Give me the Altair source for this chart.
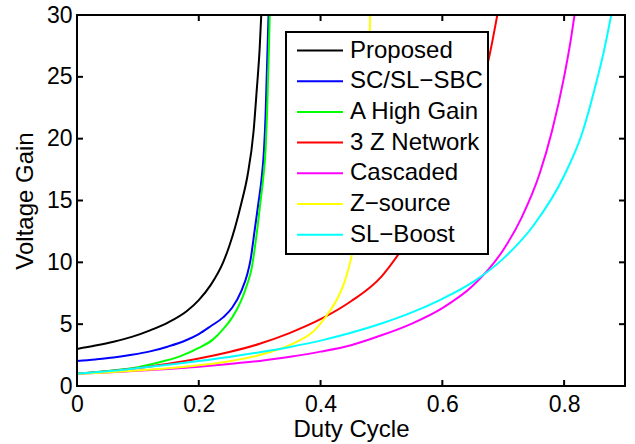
import altair as alt
import pandas as pd

FONT = "Liberation Sans"

# Series labels (legend order) and their line colours
series_names = ["Proposed", "SC/SL\u2212SBC", "A High Gain", "3 Z Network",
                "Cascaded", "Z\u2212source", "SL\u2212Boost"]
series_colors = ["#000000", "#0000ff", "#00ff00", "#ff0000",
                 "#ff00ff", "#ffff00", "#00ffff"]

# Voltage gain versus duty cycle for each converter
duty_proposed = [0, 0.03, 0.06, 0.09, 0.12, 0.15, 0.18, 0.20, 0.22, 0.24, 0.25,
                 0.26, 0.27, 0.28, 0.29, 0.295, 0.30, 0.3032]
gain_proposed = [3.0, 3.27, 3.58, 3.97, 4.5, 5.15, 6.05, 6.95, 8.2, 10.0, 11.3,
                 12.9, 14.8, 17.0, 20.6, 23.8, 27.3, 30.6]

duty_scsl = [0, 0.03, 0.06, 0.09, 0.12, 0.15, 0.18, 0.20, 0.22, 0.24, 0.255,
             0.27, 0.28, 0.285, 0.2918, 0.2985, 0.303, 0.307, 0.3097, 0.3113, 0.3148]
gain_scsl = [2.03, 2.15, 2.3, 2.52, 2.8, 3.2, 3.72, 4.2, 4.85, 5.55, 6.35,
             7.7, 9.1, 10.2, 12.6, 15.0, 16.7, 19.0, 21.9, 24.6, 30.4]

duty_highgain = [0, 0.05, 0.10, 0.14, 0.17, 0.20, 0.2235, 0.24, 0.255, 0.27, 0.28,
                 0.2863, 0.2945, 0.301, 0.3055, 0.3098, 0.312, 0.3136, 0.3152, 0.3168]
gain_highgain = [1.0, 1.22, 1.52, 1.98, 2.42, 3.08, 3.77, 4.6, 5.55, 6.95, 8.3,
                 9.38, 12.07, 14.77, 16.65, 19.2, 21.9, 24.6, 27.3, 30.5]

duty_3z = [0, 0.05, 0.10, 0.15, 0.20, 0.25, 0.30, 0.35, 0.40, 0.45, 0.50, 0.53,
           0.55, 0.58, 0.61, 0.64, 0.66, 0.676, 0.691]
gain_3z = [1.0, 1.2, 1.45, 1.8, 2.22, 2.75, 3.42, 4.3, 5.4, 6.85, 8.85, 10.8,
           12.3, 14.8, 17.8, 21.0, 23.5, 26.4, 30.2]

duty_cascaded = [0, 0.05, 0.10, 0.15, 0.20, 0.25, 0.30, 0.35, 0.40, 0.45, 0.50,
                 0.55, 0.60, 0.65, 0.70, 0.73, 0.76, 0.78, 0.80, 0.81, 0.818]
gain_cascaded = [1.0, 1.1, 1.23, 1.38, 1.56, 1.78, 2.03, 2.37, 2.78, 3.3, 4.1,
                 5.05, 6.3, 8.1, 11.0, 13.6, 17.2, 20.6, 25.0, 27.7, 30.3]

duty_zsource = [0, 0.05, 0.10, 0.15, 0.20, 0.25, 0.30, 0.33, 0.36, 0.39, 0.41,
                0.43, 0.44, 0.45, 0.455, 0.46, 0.465, 0.47, 0.475, 0.478, 0.4805, 0.4822]
gain_zsource = [1.0, 1.1, 1.25, 1.43, 1.67, 2.0, 2.5, 2.95, 3.55, 4.5, 5.7,
                7.3, 8.5, 10.3, 11.4, 12.8, 14.5, 16.8, 20.2, 24.0, 28.3, 30.8]

duty_slboost = [0, 0.05, 0.10, 0.15, 0.20, 0.25, 0.30, 0.35, 0.40, 0.45, 0.50,
                0.55, 0.60, 0.65, 0.70, 0.75, 0.80, 0.83, 0.85, 0.865, 0.879]
gain_slboost = [1.0, 1.2, 1.45, 1.72, 2.02, 2.35, 2.73, 3.16, 3.67, 4.3, 5.05,
                5.95, 7.05, 8.4, 10.3, 13.0, 17.0, 20.5, 24.0, 27.0, 30.4]

duty_all = [duty_proposed, duty_scsl, duty_highgain, duty_3z,
            duty_cascaded, duty_zsource, duty_slboost]
gain_all = [gain_proposed, gain_scsl, gain_highgain, gain_3z,
            gain_cascaded, gain_zsource, gain_slboost]

x_ticks = [0, 0.2, 0.4, 0.6, 0.8]
y_ticks = [0, 5, 10, 15, 20, 25, 30]

W, H = 548, 371
TICK_LEN = 6

rows = []
for k, (name, ds, gs) in enumerate(zip(series_names, duty_all, gain_all)):
    for d, g in zip(ds, gs):
        rows.append({"series": name, "rank": k, "duty": d, "gain": g})
df = pd.DataFrame(rows)

x_scale = alt.Scale(domain=[0, 0.9], nice=False)
y_scale = alt.Scale(domain=[0, 30], nice=False)

lines = alt.Chart(df).mark_line(strokeWidth=2, clip=True,
                                interpolate="monotone").encode(
    x=alt.X("duty:Q", scale=x_scale,
            axis=alt.Axis(orient="bottom", values=x_ticks, format="~g",
                          ticks=False, tickSize=0, domain=False, grid=False,
                          labelFlush=False, labelFont=FONT, labelFontSize=23,
                          labelColor="black", labelPadding=7,
                          title="Duty Cycle", titleFont=FONT, titleFontSize=24,
                          titleFontWeight="normal", titleColor="black",
                          titleX=W / 2, titleY=50, titleBaseline="alphabetic",
                          titleAlign="center")),
    y=alt.Y("gain:Q", scale=y_scale,
            axis=alt.Axis(orient="left", values=y_ticks, ticks=False, tickSize=0,
                          domain=False, grid=False, labelFont=FONT,
                          labelFontSize=23, labelColor="black", labelPadding=5,
                          title="Voltage Gain", titleFont=FONT, titleFontSize=24,
                          titleFontWeight="normal", titleColor="black",
                          titleAngle=270, titleX=-45, titleY=H / 2,
                          titleBaseline="alphabetic", titleAlign="center")),
    color=alt.Color("series:N",
                    scale=alt.Scale(domain=series_names, range=series_colors),
                    legend=alt.Legend(orient="none", legendX=209, legendY=17,
                                      direction="vertical", title=None,
                                      symbolType="stroke", symbolSize=2116,
                                      symbolStrokeWidth=2, symbolOffset=5,
                                      clipHeight=27, rowPadding=3.7, padding=5,
                                      labelOffset=6, labelFont=FONT,
                                      labelFontSize=24, labelColor="black",
                                      labelLimit=300, fillColor="white",
                                      strokeColor="black", zindex=1)),
    order=alt.Order("rank:Q"),
)

# Inward-pointing tick segments on all four sides of the box
xt = pd.DataFrame({"t": x_ticks})
yt = pd.DataFrame({"t": y_ticks})
seg_style = dict(color="black", strokeWidth=2)

ticks_bottom = alt.Chart(xt).mark_rule(**seg_style).encode(
    x=alt.X("t:Q", scale=x_scale, axis=None), x2="t:Q",
    y=alt.value(H), y2=alt.value(H - TICK_LEN))
ticks_top = alt.Chart(xt).mark_rule(**seg_style).encode(
    x=alt.X("t:Q", scale=x_scale, axis=None), x2="t:Q",
    y=alt.value(0), y2=alt.value(TICK_LEN))
ticks_left = alt.Chart(yt).mark_rule(**seg_style).encode(
    y=alt.Y("t:Q", scale=y_scale, axis=None), y2="t:Q",
    x=alt.value(0), x2=alt.value(TICK_LEN))
ticks_right = alt.Chart(yt).mark_rule(**seg_style).encode(
    y=alt.Y("t:Q", scale=y_scale, axis=None), y2="t:Q",
    x=alt.value(W), x2=alt.value(W - TICK_LEN))

# Box around the plotting area
frame = alt.Chart(xt).mark_rect(fill=None, stroke="black", strokeWidth=2).encode(
    x=alt.value(0), x2=alt.value(W), y=alt.value(0), y2=alt.value(H))

chart = alt.layer(
    lines, ticks_bottom, ticks_top, ticks_left, ticks_right, frame,
).resolve_axis(
    x="independent", y="independent"
).properties(
    width=W, height=H,
    autosize=alt.AutoSizeParams(type="none"),
    padding={"left": 77, "top": 15, "right": 10, "bottom": 58},
    background="white",
).configure_view(
    stroke=None
).configure_legend(
    strokeWidth=2
)

chart.save("out.html", embed_options={"renderer": "svg", "actions": False})
